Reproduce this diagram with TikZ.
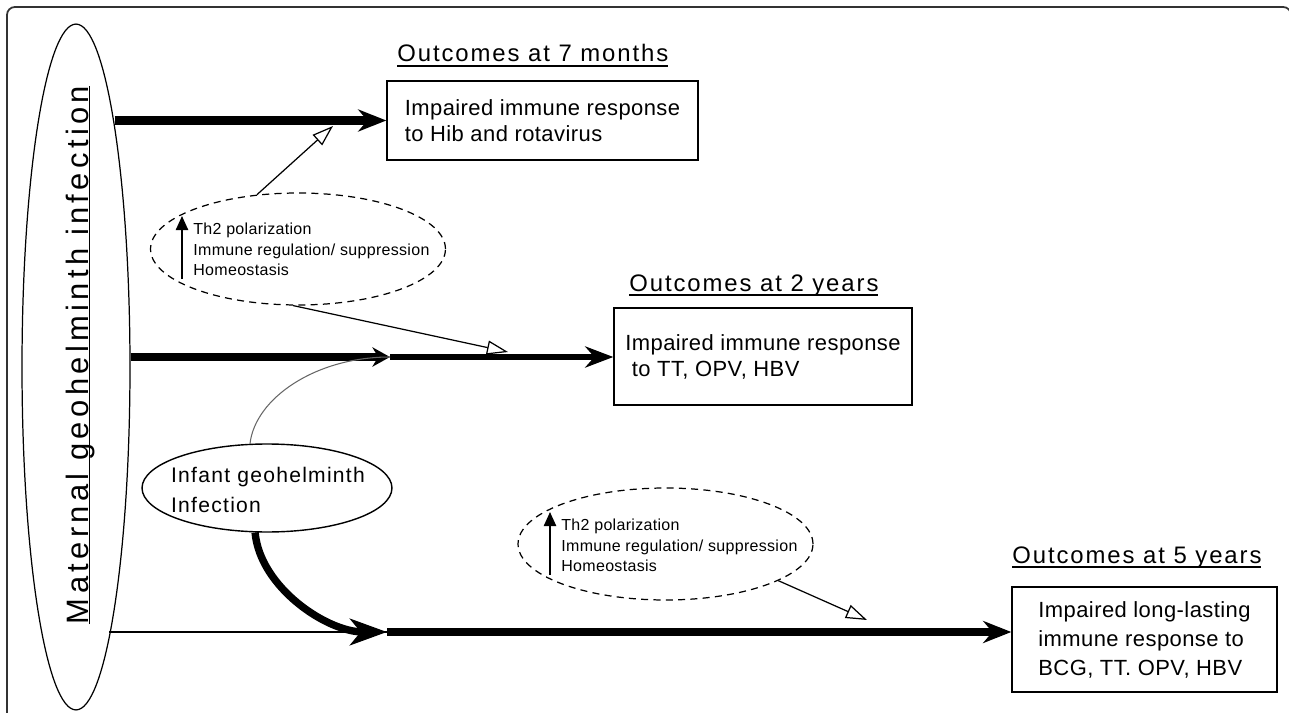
\documentclass[tikz,border=0pt]{standalone}
\usepackage{fontspec}
\setmainfont{Liberation Sans}
\usetikzlibrary{arrows.meta,positioning,shapes.geometric}
\newcommand{\ultext}[2][2.6pt]{\setbox0\hbox{#2}\rlap{\rule[-#1]{\wd0}{0.8pt}}\box0}

\begin{document}
\begin{tikzpicture}[x=0.02cm,y=-0.02cm,>=Stealth,
  outbox/.style={draw,line width=0.8pt,align=left,inner sep=0pt,font=\fontsize{12.5}{14.8}\selectfont\addfontfeature{LetterSpace=2}},
  ttl/.style={anchor=base west,inner sep=0pt,font=\fontsize{13.6}{16}\selectfont\addfontfeature{LetterSpace=8}},
  mech/.style={draw,ellipse,dash pattern=on 4pt off 3pt,line width=0.7pt,minimum width=5.9cm,minimum height=2.24cm,inner sep=0pt},
  mechtxt/.style={anchor=north west,align=left,inner sep=0pt,font=\fontsize{9.1}{11.6}\selectfont\addfontfeature{LetterSpace=2}},
  thickarr/.style={line width=5pt,-{Stealth[length=16pt,width=12.5pt]}},
  midarr/.style={line width=3.6pt,-{Stealth[length=16pt,width=12pt]}},
  pointer/.style={line width=0.7pt,-{Triangle[length=12pt,width=8pt,fill=white]}},
  uparr/.style={line width=0.9pt,-{Triangle[length=8pt,width=7pt]}}]
  \useasboundingbox (0,0) rectangle (1289,713);
  \clip (0,0) rectangle (1289,713);
  \draw[line width=1pt,black!80,rounded corners=4.5pt] (7,7) rectangle (1291,740);

  % mother
  \node[draw,ellipse,line width=0.7pt,minimum width=2.16cm,minimum height=13.72cm,inner sep=0pt] (maternal) at (76,367) {};
  \node[rotate=90,anchor=base,inner sep=0pt,font=\fontsize{17.6}{20}\selectfont\addfontfeature{LetterSpace=14}] (mattxt) at (88,355) {\ultext[1.2pt]{Maternal geohelminth infection}};

  % outcomes
  \node[ttl] (t1) at (397,62) {\ultext{Outcomes at 7 months}};
  \node[outbox,minimum width=6.22cm,minimum height=1.58cm] (o1) at (542.5,120.5) {Impaired immune response\\to Hib and rotavirus};
  \node[ttl] (t2) at (629,291) {\ultext{Outcomes at 2 years}};
  \node[outbox,minimum width=5.96cm,minimum height=1.94cm] (o2) at (763,356.5) {Impaired immune response\\\ to TT, OPV, HBV};
  \node[ttl] (t3) at (1012,563) {\ultext{Outcomes at 5 years}};
  \node[outbox,minimum width=5.3cm,minimum height=2.1cm,font=\fontsize{12.5}{16.5}\selectfont\addfontfeature{LetterSpace=2}] (o3) at (1144.5,639.5) {Impaired long-lasting\\immune response to\\BCG, TT. OPV, HBV};

  % mechanisms
  \node[mech] (mech1) at (298,249) {};
  \node[mechtxt] (m1txt) at (193,223) {Th2 polarization\\Immune regulation/ suppression\\Homeostasis};
  \draw[uparr] ([shift={(-11,3)}]m1txt.south west) -- ([shift={(-11,-7)}]m1txt.north west);
  \node[mech] (mech2) at (665.5,544) {};
  \node[mechtxt] (m2txt) at (561,519) {Th2 polarization\\Immune regulation/ suppression\\Homeostasis};
  \draw[uparr] ([shift={(-11,3)}]m2txt.south west) -- ([shift={(-11,-7)}]m2txt.north west);

  % infant
  \node[draw,ellipse,line width=0.8pt,minimum width=5cm,minimum height=1.76cm,inner sep=0pt] (infant) at (267,488) {};
  \node[align=left,inner sep=0pt,font=\fontsize{12}{17}\selectfont\addfontfeature{LetterSpace=6}] (inftxt) at (268,490) {Infant geohelminth\\Infection};

  \coordinate (j2) at (390,357);
  \coordinate (j3) at (387,632);
  \coordinate (p1) at (333,126);
  \coordinate (p2) at (508,352);
  \coordinate (p3) at (867,620);

  \draw[thickarr] (o1.west -| maternal.81) -- (o1.west);
  \draw[thickarr,-{Stealth[length=10pt,width=11pt]}] (maternal.east |- j2) -- (j2);
  \draw[midarr] (j2) -- (j2 -| o2.west);
  \draw[line width=0.6pt,black!60] (infant.111) .. controls +(5,-45) and +(-75,0) .. (j2);
  \draw[line width=0.6pt] (j3 -| maternal.277) -- (j3);
  \draw[line width=4.2pt,-{Stealth[length=21pt,width=15pt,inset=6pt]}] (infant.255) .. controls +(5,55) and +(-60,0) .. (j3);
  \draw[thickarr] (j3) -- (j3 -| o3.west);

  \draw[pointer] (mech1.127) -- (p1);
  \draw[pointer] (mech1.265) -- (p2);
  \draw[pointer] (mech2.342) -- (p3);
\end{tikzpicture}
\end{document}
